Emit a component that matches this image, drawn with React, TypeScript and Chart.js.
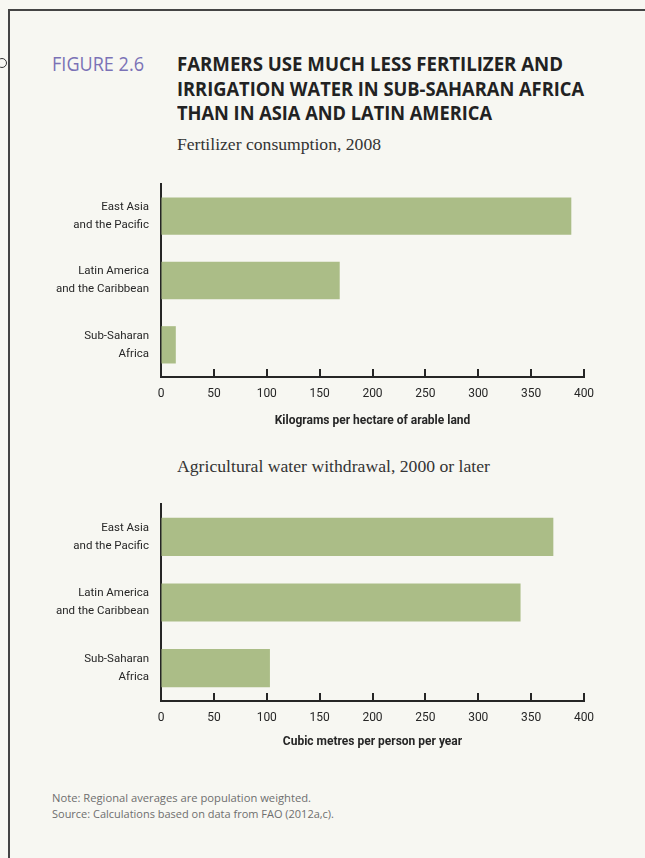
import { FC, ReactNode, useEffect, useLayoutEffect, useRef } from 'react';
import Chart from 'chart.js/auto';

// data
const regions = [
  ['East Asia', 'and the Pacific'],
  ['Latin America', 'and the Caribbean'],
  ['Sub-Saharan', 'Africa'],
];
const fertilizerKg = [388, 169, 14];
const waterM3 = [371, 340, 103];
const xTickValues = [0, 50, 100, 150, 200, 250, 300, 350, 400];

const BG = '#f7f7f2';
const BAR = '#abbd87';
const INK = '#262626';
const AXIS_FONT = 'Roboto, sans-serif';

// squeezes a line of text to the width it has in the print
const FitText: FC<{
  x: number;
  y: number;
  width: number;
  size: number;
  family: string;
  weight?: number;
  color: string;
  children: ReactNode;
}> = ({ x, y, width, size, family, weight = 400, color, children }) => {
  const ref = useRef<HTMLSpanElement>(null);

  useLayoutEffect(() => {
    const el = ref.current;
    if (!el) return;
    el.style.transform = 'none';
    const w = el.getBoundingClientRect().width;
    if (w > 0) el.style.transform = `scaleX(${width / w})`;
  }, [width, children]);

  const lh = Math.round(size * 1.2);
  return (
    <span
      ref={ref}
      style={{
        position: 'absolute',
        left: x,
        top: y - lh / 2,
        fontSize: size,
        lineHeight: `${lh}px`,
        fontFamily: family,
        fontWeight: weight,
        color,
        whiteSpace: 'nowrap',
        transformOrigin: '0 50%',
      }}
    >
      {children}
    </span>
  );
};

// tick marks sit on the axis and point up into the plot
const innerTicks = {
  id: 'innerTicks',
  afterDraw(chart: Chart) {
    const { ctx, chartArea } = chart;
    const x = chart.scales.x;
    ctx.save();
    ctx.strokeStyle = INK;
    ctx.lineWidth = 2;
    x.ticks.forEach((t) => {
      const px = Math.round(x.getPixelForValue(t.value));
      ctx.beginPath();
      ctx.moveTo(px, chartArea.bottom);
      ctx.lineTo(px, chartArea.bottom - 8);
      ctx.stroke();
    });
    ctx.restore();
  },
};

interface BarPanelProps {
  values: number[];
  axisTitle: string;
  top: number;
  height: number;
  xAxisHeight: number;
}

const BarPanel: FC<BarPanelProps> = ({ values, axisTitle, top, height, xAxisHeight }) => {
  const chartRef = useRef<HTMLCanvasElement>(null);
  const chartInstance = useRef<Chart | null>(null);

  useEffect(() => {
    if (!chartRef.current) return;
    if (chartInstance.current) chartInstance.current.destroy();

    chartInstance.current = new Chart(chartRef.current, {
      type: 'bar',
      data: {
        labels: regions,
        datasets: [
          {
            data: values,
            backgroundColor: BAR,
            borderWidth: 0,
            barPercentage: 0.58,
            categoryPercentage: 1,
          },
        ],
      },
      options: {
        indexAxis: 'y',
        responsive: true,
        maintainAspectRatio: false,
        animation: false,
        layout: { padding: { top: 4, right: 16, bottom: 0, left: 0 } },
        plugins: {
          legend: { display: false },
          tooltip: { enabled: false },
        },
        scales: {
          x: {
            type: 'linear',
            min: 0,
            max: 400,
            afterBuildTicks: (s: any) => {
              s.ticks = xTickValues.map((v) => ({ value: v }));
            },
            afterFit: (s: any) => {
              s.height = xAxisHeight;
              s.paddingLeft = 0;
              s.paddingRight = 0;
            },
            grid: { drawOnChartArea: false, drawTicks: false },
            border: { color: INK, width: 2 },
            ticks: {
              padding: 10,
              color: INK,
              maxRotation: 0,
              font: { family: AXIS_FONT, size: 12 },
            },
            title: {
              display: true,
              text: axisTitle,
              color: INK,
              padding: 0,
              font: { family: AXIS_FONT, size: 12, weight: 'bold' },
            },
          },
          y: {
            afterFit: (s: any) => {
              s.width = 121;
              s.paddingTop = 0;
              s.paddingBottom = 0;
            },
            grid: { drawOnChartArea: false, drawTicks: false },
            border: { color: INK, width: 2 },
            ticks: {
              padding: 12,
              color: INK,
              font: { family: AXIS_FONT, size: 11.5, lineHeight: 1.55 },
            },
          },
        },
      },
      plugins: [innerTicks],
    });

    return () => {
      if (chartInstance.current) {
        chartInstance.current.destroy();
        chartInstance.current = null;
      }
    };
  }, [values, axisTitle, xAxisHeight]);

  return (
    <div style={{ position: 'absolute', left: 40, top, width: 560, height }}>
      <canvas ref={chartRef}></canvas>
    </div>
  );
};

const App: FC = () => {
  return (
    <div
      style={{
        position: 'absolute',
        left: 0,
        top: 0,
        width: 645,
        height: 858,
        overflow: 'hidden',
        background: BG,
      }}
    >
      {/* page frame */}
      <div style={{ position: 'absolute', left: 8, top: 9, width: 2, height: 860, background: '#444' }} />
      <div style={{ position: 'absolute', left: 8, top: 9, width: 640, height: 2, background: '#444' }} />
      <div
        style={{
          position: 'absolute',
          left: -3,
          top: 58,
          width: 8,
          height: 8,
          borderRadius: '50%',
          border: '1.5px solid #333',
          background: BG,
        }}
      />

      <FitText x={52} y={64} width={92} size={20} family="'Open Sans', sans-serif" color="#7b72b6">
        FIGURE 2.6
      </FitText>
      <FitText x={177} y={64} width={386} size={20} family="'Open Sans', sans-serif" weight={700} color="#222">
        FARMERS USE MUCH LESS FERTILIZER AND
      </FitText>
      <FitText x={177} y={89} width={407} size={20} family="'Open Sans', sans-serif" weight={700} color="#222">
        IRRIGATION WATER IN SUB-SAHARAN AFRICA
      </FitText>
      <FitText x={177} y={113} width={315} size={20} family="'Open Sans', sans-serif" weight={700} color="#222">
        THAN IN ASIA AND LATIN AMERICA
      </FitText>

      <FitText x={177} y={145} width={204} size={17} family="'Liberation Serif', serif" color="#333">
        Fertilizer consumption, 2008
      </FitText>
      <BarPanel values={fertilizerKg} axisTitle="Kilograms per hectare of arable land" top={180} height={248} xAxisHeight={51} />

      <FitText x={177} y={467} width={313} size={17} family="'Liberation Serif', serif" color="#333">
        Agricultural water withdrawal, 2000 or later
      </FitText>
      <BarPanel values={waterM3} axisTitle="Cubic metres per person per year" top={500} height={249} xAxisHeight={48} />

      <FitText x={52} y={797} width={259} size={11} family="'Open Sans', sans-serif" color="#6e6e6e">
        Note: Regional averages are population weighted.
      </FitText>
      <FitText x={52} y={813} width={282} size={11} family="'Open Sans', sans-serif" color="#6e6e6e">
        Source: Calculations based on data from FAO (2012a,c).
      </FitText>
    </div>
  );
};

export default App;
